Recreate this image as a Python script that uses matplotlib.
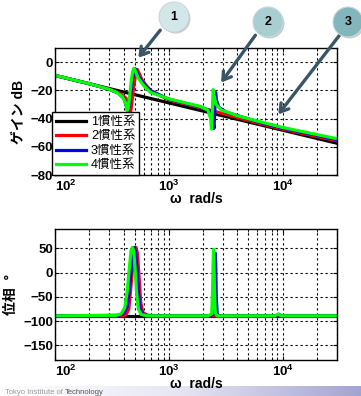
# bode_multi_inertia.py
# Gain / phase of 1- to 4-inertia systems

import numpy as np
import matplotlib
matplotlib.use('Agg')
import matplotlib.pyplot as plt
from matplotlib.patches import Circle
from matplotlib.colors import LinearSegmentedColormap

plt.rcParams['font.family'] = ['Liberation Sans', 'Noto Sans CJK JP']
plt.rcParams['mathtext.fontset'] = 'custom'
plt.rcParams['mathtext.bf'] = 'Liberation Sans:bold'
plt.rcParams['mathtext.rm'] = 'Liberation Sans:bold'

# ---- gain (dB) ----
w_gain_1 = [100, 30000]
gain_1 = [-9.5, -57.5]

w_gain_2 = [100, 200, 300, 370, 420, 445, 458, 470, 490, 512, 528, 545, 580, 640,
            700, 1000, 1900, 3000, 6500, 10000, 30000]
gain_2 = [-9.4, -15.3, -19.2, -22.0, -25.5, -30.0, -37.0, -31.0, -18.0, -8.0, -5.2,
          -7.5, -12.5, -17.0, -20.5, -26.8, -32.3, -36.5, -43.8, -47.5, -55.8]

w_gain_3 = [100, 200, 300, 360, 405, 437, 450, 470, 490, 505, 520, 550, 610, 700,
            1000, 1900, 2300, 2440, 2490, 2540, 2575, 2620, 2750, 3200, 6500, 10000, 30000]
gain_3 = [-9.4, -15.3, -19.3, -22.0, -26.0, -35.0, -30.0, -17.0, -7.0, -4.6, -6.5,
          -11.0, -16.0, -20.5, -26.3, -31.8, -34.5, -40.0, -47.0, -32.0, -21.5, -27.0,
          -32.0, -35.5, -43.0, -46.8, -54.9]

w_gain_4 = [100, 200, 300, 350, 390, 415, 430, 440, 450, 465, 480, 494, 510, 540, 600,
            690, 1000, 1500, 1900, 2200, 2330, 2370, 2410, 2450, 2500, 2600, 2900, 4000,
            6500, 10000, 30000]
gain_4 = [-9.4, -15.3, -19.3, -21.5, -24.5, -28.5, -34.5, -33.0, -26.0, -15.0, -7.0,
          -4.3, -6.5, -11.5, -16.5, -21.5, -26.0, -29.5, -31.5, -34.0, -40.0, -47.5,
          -35.0, -19.5, -24.0, -30.0, -34.0, -38.0, -42.5, -46.3, -54.3]

# ---- phase (deg) ----
w_phase_1 = [100, 30000]
phase_1 = [-90, -90]

w_phase_2 = [100, 380, 420, 445, 460, 480, 500, 515, 530, 548, 565, 590, 650, 1000, 30000]
phase_2 = [-89, -89, -87, -75, -40, 10, 45, 52, 40, -10, -60, -82, -88, -89, -89]

w_phase_3 = [100, 360, 400, 430, 450, 470, 485, 497, 510, 525, 540, 560, 600, 700,
             2300, 2450, 2500, 2530, 2560, 2580, 2610, 2660, 2750, 8700, 9300, 9800, 30000]
phase_3 = [-89, -88, -84, -70, -35, 15, 45, 52, 42, 5, -40, -75, -87, -89,
           -89, -86, -50, 0, 40, 15, -50, -85, -89, -89, -86, -89, -89]

w_phase_4 = [100, 340, 380, 410, 430, 450, 465, 478, 492, 505, 520, 540, 570, 650,
             2200, 2380, 2420, 2450, 2470, 2490, 2520, 2560, 2650, 8500, 9200, 9600, 30000]
phase_4 = [-89, -88, -85, -72, -40, 10, 45, 52, 45, 10, -40, -75, -86, -89,
           -89, -85, -40, 20, 48, 25, -40, -82, -89, -89, -85, -89, -89]

labels = ['1慣性系', '2慣性系', '3慣性系', '4慣性系']
colors = ['#000000', '#ff0000', '#0000ff', '#00ff00']

gain_sets = [(w_gain_1, gain_1), (w_gain_2, gain_2), (w_gain_3, gain_3), (w_gain_4, gain_4)]
phase_sets = [(w_phase_1, phase_1), (w_phase_2, phase_2), (w_phase_3, phase_3), (w_phase_4, phase_4)]

W, H = 361, 396
fig = plt.figure(figsize=(W / 100, H / 100), dpi=100)
fig.patch.set_facecolor('white')

ax1 = fig.add_axes([55 / W, (H - 175) / H, 282 / W, 127 / H])
ax2 = fig.add_axes([55 / W, (H - 360) / H, 282 / W, 131 / H])

for (w, g), c, lab in zip(gain_sets, colors, labels):
    ax1.plot(w, g, color=c, lw=2.3, label=lab)
for (w, p), c in zip(phase_sets, colors):
    ax2.plot(w, p, color=c, lw=2.3)

xt = [100, 1000, 10000]
xtl = ['$\\mathbf{10^{2}}$', '$\\mathbf{10^{3}}$', '$\\mathbf{10^{4}}$']


def style_axis(ax, ylim, yticks):
    ax.set_xscale('log')
    ax.set_xlim(100, 30000)
    ax.set_ylim(*ylim)
    ax.set_yticks(yticks)
    ax.set_yticklabels([str(v).replace('-', '\u2212') for v in yticks],
                       fontsize=9.5, fontweight='bold')
    ax.set_xticks(xt)
    ax.set_xticklabels(xtl, fontsize=9.5)
    ax.get_xticklabels()[0].set_horizontalalignment('left')
    ax.grid(True, which='major', color='black', ls=(0, (2, 2.5)), lw=0.8)
    ax.grid(True, which='minor', axis='x', color='black', ls=(0, (2, 2.5)), lw=0.8)
    ax.tick_params(which='both', direction='in', top=True, right=True, length=3)
    ax.tick_params(which='minor', length=2)
    ax.tick_params(axis='y', pad=1.5)
    ax.tick_params(axis='x', pad=2.5)
    for s in ax.spines.values():
        s.set_linewidth(1.0)
        s.set_color('black')
    ax.set_xlabel('ω  rad/s', fontsize=10, fontweight='bold', labelpad=-1)


style_axis(ax1, (-80, 10), [-80, -60, -40, -20, 0])
style_axis(ax2, (-180, 90), [-150, -100, -50, 0, 50])
ax1.set_ylabel('ゲイン dB', fontsize=10, fontweight='bold', labelpad=3)
ax2.set_ylabel('位相  °', fontsize=10, fontweight='bold', labelpad=4)

leg = ax1.legend(loc='upper left', bbox_to_anchor=(-0.01, 0.495), fontsize=9,
                 frameon=True, fancybox=False, framealpha=1, edgecolor='black',
                 borderpad=0.3, labelspacing=0.2, handlelength=2.4,
                 handletextpad=0.4, borderaxespad=0)
leg.get_frame().set_linewidth(1.0)
leg.set_zorder(20)

# callout arrows pointing at the features
arrow_kw = dict(arrowstyle='->, head_length=0.55, head_width=0.35', color='#3a5566', lw=2.4)
targets = [(521, 1.6), (2786, -16.1), (8850, -38.6)]
starts = [(162, 28), (257, 33), (342, 32)]
for (tx, ty), (sx, sy) in zip(targets, starts):
    ax1.annotate('', xy=(tx, ty), xycoords='data', xytext=(sx, H - sy),
                 textcoords='figure pixels', arrowprops=arrow_kw,
                 annotation_clip=False, zorder=30)

# numbered circles
ov = fig.add_axes([0, 0, 1, 1], zorder=40)
ov.set_xlim(0, W)
ov.set_ylim(H, 0)
ov.axis('off')
circ_pos = [(174, 17), (268, 22), (348, 22)]
circ_col = ['#d3e6e8', '#a8ced2', '#82b5bc']
for i, ((cx, cy), cc) in enumerate(zip(circ_pos, circ_col)):
    ov.add_patch(Circle((cx + 1.5, cy + 1.5), 15, color='#8a8a8a', alpha=0.45, lw=0))
    ov.add_patch(Circle((cx, cy), 15, facecolor=cc, edgecolor='#c8d8da', lw=0.8))
    ov.text(cx, cy, str(i + 1), ha='center', va='center', fontsize=9,
            fontweight='bold', color='black')

# footer band
band = fig.add_axes([0, 0, 1, 10 / H], zorder=-5)
cmap = LinearSegmentedColormap.from_list('band', ['#ffffff', '#e6e6f2', '#a3a3d3'])
band.imshow(np.linspace(0, 1, 256)[None, :], aspect='auto', cmap=cmap,
            extent=(0, 1, 0, 1))
band.axis('off')
t1 = fig.text(5 / W, 3 / H, 'Tokyo Institute of ', fontsize=5.5, color='#9a9a9a', va='center')
fig.canvas.draw()
bb = t1.get_window_extent()
fig.text(bb.x1 / W, 3 / H, 'Technology', fontsize=5.5, color='#555555', va='center')

fig.savefig('out.png', dpi=100)
